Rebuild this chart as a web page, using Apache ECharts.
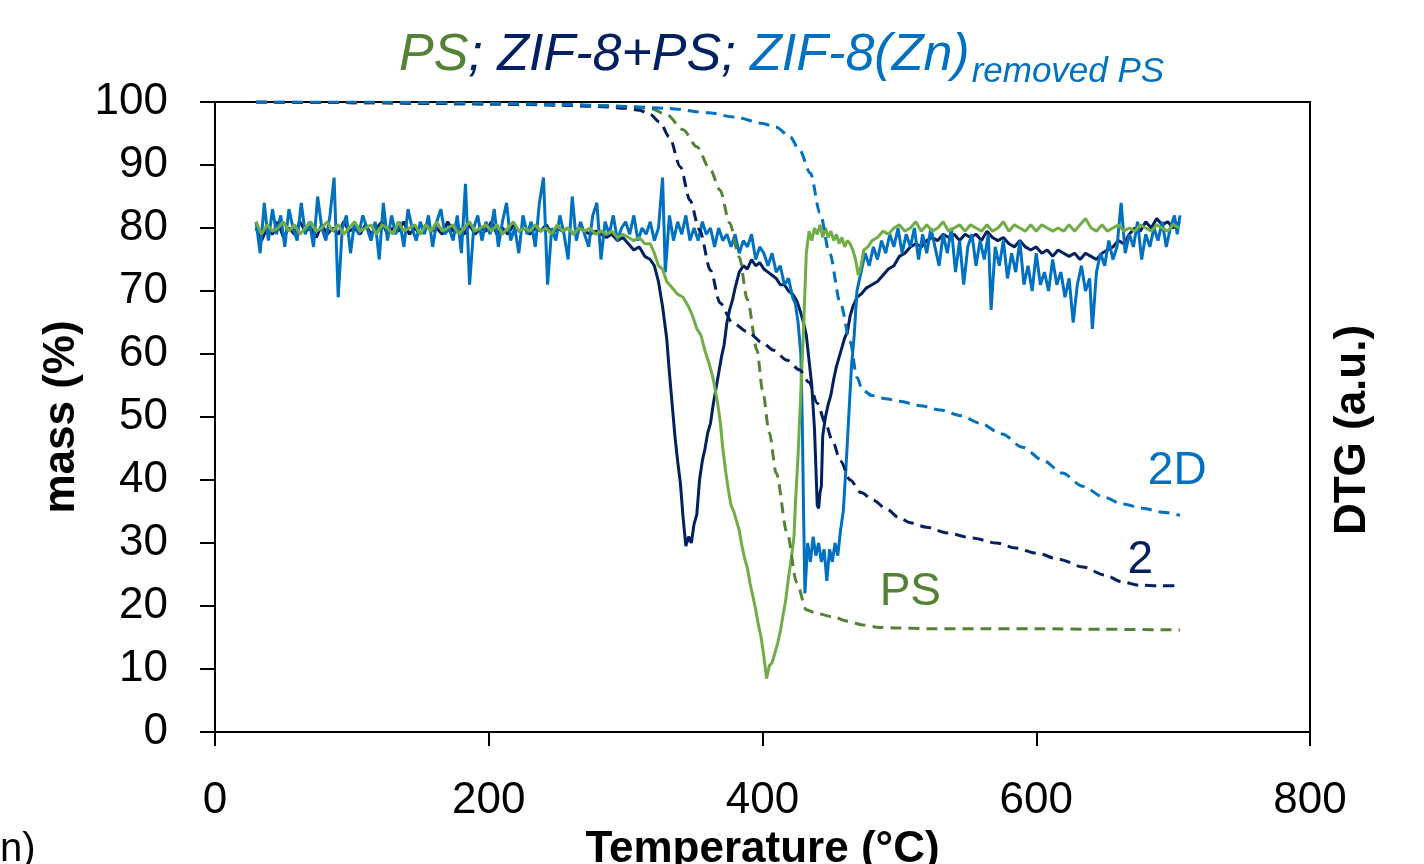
<!DOCTYPE html>
<html>
<head>
<meta charset="utf-8">
<script src="https://cdn.jsdelivr.net/npm/echarts@6/dist/echarts.min.js"></script>
<style>
  html, body { margin: 0; padding: 0; background: #fff; }
  #chart { width: 1424px; height: 864px; }
</style>
</head>
<body>
<div id="chart"></div>
<script>
// mass loss curves (dashed), [temperature, mass %]
const massPS = [[30,100],[100,99.9],[200,99.7],[250,99.6],[290,99.4],[305,99.2],[318,99],[330,98],[342,95.6],[352,92.9],[362,89.2],[369,86],[376,80.8],[383,75.4],[389,68.6],[396,60.6],[400,54.3],[405,47.5],[410,41.1],[418,31.6],[425,23.7],[432,19.4],[440,18.8],[451,18.3],[462,17.6],[473,17],[486,16.6],[498,16.5],[520,16.4],[560,16.4],[600,16.4],[650,16.3],[705,16.2]];
const mass2 = [[30,100],[100,99.9],[200,99.7],[250,99.5],[280,99.3],[300,99],[310,98.7],[318,98],[325,96.8],[332,94.4],[340,89.7],[347,84.4],[354,79.7],[362,73.3],[369,68.1],[378,65],[389,63.5],[400,61.8],[408,60.6],[418,59],[427,57.5],[434,55.5],[440,52.2],[446,49],[451,46.3],[457,43],[464,40],[472,38],[481,36.8],[490,35.5],[500,34],[508,33.2],[520,32.5],[535,31.6],[553,30.8],[571,30],[585,29.2],[600,28.4],[617,27.4],[634,26.2],[650,24.9],[663,23.8],[675,23.3],[690,23.2],[705,23.2]];
const mass2D = [[30,100],[100,100],[200,99.8],[250,99.6],[300,99.3],[330,99],[360,98.3],[380,97.6],[400,96.6],[410,96],[420,94.5],[427,92.4],[435,88.7],[442,82.4],[449,76],[457,68],[464,62],[469,56.3],[473,54.3],[480,53.4],[490,52.9],[500,52.5],[515,51.8],[530,51.1],[545,50.2],[559,49],[575,47.3],[590,45.2],[605,43.1],[619,41.1],[634,39],[649,37.3],[663,36.2],[678,35.5],[692,34.9],[705,34.4]];

// DTG curves (solid), [temperature, a.u.]
const dtgPS = [[30,81],[34,79],[38,80.5],[42,79.5],[46,80],[50,81],[54,79.5],[58,80.5],[62,79],[66,80],[70,81],[74,79.5],[78,80],[82,81],[86,79.5],[90,80.5],[94,79],[98,80],[102,81],[106,79.5],[110,80],[114,80.5],[118,79],[122,80.5],[126,80],[130,79],[134,81],[138,79.5],[142,80],[146,80.5],[150,79],[154,80.5],[158,79.5],[162,81],[166,79.5],[170,80],[174,80.5],[178,79],[182,80],[186,81],[190,79.5],[194,80],[198,80.5],[202,79.5],[206,80.5],[210,79],[214,80],[218,81],[222,79.5],[226,80],[230,79.5],[234,80.5],[238,79.5],[242,80],[246,79],[250,80.5],[254,79.5],[258,80],[262,79],[266,80],[270,79.5],[274,80],[278,79],[282,79.5],[286,79],[290,79.5],[294,78.5],[298,79],[302,78.5],[306,78],[310,78.5],[314,77.5],[318,77.5],[321,76],[324,74],[327,73.5],[330,71.5],[334,70.5],[338,69.5],[342,69],[346,67.5],[349,66],[352,64],[355,63],[358,60.5],[361,58.5],[364,56],[367,52.5],[369,49.5],[371,45],[373,41.5],[375,38.5],[377,36],[379,35],[381,33.5],[383,32],[385,29.5],[387,27.5],[389,26],[391,23.5],[393,21.5],[395,19.5],[397,17],[399,15],[401,12],[403,8.5],[405,10.5],[407,11],[409,12.5],[411,14],[413,16],[415,18.5],[417,21],[419,24.5],[421,27.5],[423,31],[424,36],[425,40],[426,44],[427,49],[428,54],[429,59],[430,64],[431,70],[432,76],[434,79.5],[436,78],[438,80],[440,79],[442,80.5],[444,78.5],[446,80],[448,78.5],[450,79.5],[452,78],[454,79],[456,77.5],[458,78.5],[460,77],[462,78],[464,77.5],[466,76.5],[468,75],[470,72.5],[472,74],[474,76.5],[477,77],[480,78],[484,78.5],[488,79.5],[492,79],[496,80],[500,80.5],[504,79.5],[508,80],[512,81],[516,79.5],[520,80.5],[524,79.5],[528,80],[532,81],[536,79.5],[540,80],[544,80.5],[548,79.5],[552,80.5],[556,80],[560,79.5],[564,80.5],[568,79.5],[572,80],[576,81],[580,79.5],[584,80.5],[588,80],[592,79.5],[596,80.5],[600,79.5],[604,80.5],[608,80],[612,79.5],[616,80],[620,79.5],[624,80.5],[628,79.5],[632,80.5],[636,81.5],[640,80],[644,79.5],[648,80.5],[652,79.5],[656,80],[660,80.5],[664,79.5],[668,80],[672,79.5],[676,80.5],[680,80],[684,79.5],[688,80.5],[692,80],[696,79.5],[700,80.5],[705,80]];
const dtg2 = [[30,80],[34,78],[38,80],[42,79],[46,81],[50,78.5],[54,80],[58,79],[62,81],[66,79.5],[70,80],[74,78.5],[78,80.5],[82,79],[86,80],[90,79],[94,81],[98,79.5],[102,80],[106,79],[110,80.5],[114,79],[118,80],[122,81],[126,79],[130,80],[134,79.5],[138,81],[142,79],[146,80],[150,79],[154,80.5],[158,79.5],[162,80],[166,79],[170,81],[174,79.5],[178,80],[182,79],[186,80.5],[190,79],[194,80],[198,79.5],[202,81],[206,79],[210,80],[214,79],[218,80.5],[222,79.5],[226,80],[230,79],[234,80],[238,79.5],[242,80.5],[246,79],[250,80],[254,79.5],[258,80],[262,79],[266,80],[270,79.5],[274,79],[278,79.5],[282,79],[286,78.5],[290,79],[294,78],[298,78.5],[302,77.5],[306,76.5],[310,77],[314,75.5],[318,75],[321,74],[324,71.5],[327,67.5],[330,62.5],[332,57],[334,52],[336,47],[338,43],[340,39.5],[342,34],[344,29.5],[346,31],[348,30],[350,33],[352,34.5],[354,40],[356,43],[358,45],[360,47.5],[362,49],[364,52],[366,54.5],[368,57],[370,59.5],[372,61.5],[374,65],[376,67],[378,68.5],[380,70.5],[383,73],[386,74],[389,73.5],[392,75],[395,74],[398,74.5],[401,73.5],[404,73],[407,72.5],[410,72],[413,71],[416,71],[419,70],[422,69.5],[425,68.5],[428,66.5],[430,65],[432,63],[434,59],[436,55],[438,48],[439,42],[440,36],[441,35.5],[442,38],[443,39],[444,47],[446,50],[448,52],[450,53.5],[452,56],[454,58],[456,59.5],[458,61],[460,62.5],[462,63.5],[464,66],[466,67.5],[469,69],[472,69.5],[476,70.5],[480,71],[484,71.5],[488,72.5],[492,73.5],[496,74],[500,75.5],[504,76],[508,77],[512,77.5],[516,77],[520,78],[524,78.5],[528,78],[532,79],[536,78.5],[540,79],[544,78],[548,79],[552,78.5],[556,79],[560,78],[564,79.5],[568,78.5],[572,78],[576,78.5],[580,77.5],[584,77],[588,78],[592,77],[596,76.5],[600,77],[604,76],[608,76.5],[612,75.5],[616,76.5],[620,76],[624,75.5],[628,76],[632,75],[636,76],[640,75.5],[644,75],[648,76],[652,76.5],[656,77],[660,78],[664,77.5],[668,79],[672,80],[676,79.5],[680,81],[684,80],[688,81.5],[692,80.5],[696,81],[700,80],[705,81]];
const dtg2D = [[30,81],[33,76],[36,84],[39,78],[42,83],[45,79],[48,82],[51,77],[54,83],[57,80],[60,78],[63,84],[66,79],[69,81],[72,77],[75,85],[78,80],[81,78],[84,82],[87,88],[90,69],[93,80],[96,82],[99,76],[102,81],[105,79],[108,82],[111,80],[114,78],[117,81],[120,75],[123,84],[126,78],[129,82],[132,79],[135,81],[138,77],[141,83],[144,80],[147,78],[150,81],[153,79],[156,82],[159,77],[162,81],[165,83],[168,79],[171,80],[174,78],[177,82],[180,76],[183,87],[186,71],[189,80],[192,82],[195,78],[198,81],[201,79],[204,83],[207,77],[210,81],[213,84],[216,78],[219,80],[222,76],[225,82],[228,79],[231,81],[234,77],[237,84],[240,88],[243,71],[246,80],[249,78],[252,82],[255,79],[258,75],[261,85],[264,78],[267,81],[270,79],[273,77],[276,82],[279,84],[282,75],[285,81],[288,79],[291,82],[294,78],[297,80],[300,81],[303,79],[306,82],[309,78],[312,80],[315,79],[318,81],[321,78],[324,80],[327,88],[329,73],[332,82],[335,78],[338,81],[341,79],[344,82],[347,78],[350,80],[353,78],[356,81],[359,79],[362,80],[365,77],[368,80],[371,78],[374,79],[377,77],[380,79],[383,76],[386,78],[389,77],[392,79],[395,75],[398,77],[401,76],[404,74],[407,76],[410,73],[413,74],[416,71],[419,72],[422,69],[424,68],[426,65],[428,60],[429,50],[430,35],[431,22],[433,30],[435,27],[437,31],[439,28],[441,30],[443,27],[445,29],[447,24],[449,29],[451,27],[453,30],[455,28],[457,32],[459,35],[461,42],[463,50],[465,58],[467,63],[469,70],[472,73],[475,76],[478,74],[481,77],[484,75],[487,78],[490,76],[493,79],[496,77],[499,80],[502,76],[505,79],[508,77],[511,80],[514,75],[517,79],[520,76],[523,80],[526,77],[529,74],[532,79],[535,76],[538,80],[541,73],[544,78],[547,71],[550,77],[553,79],[556,74],[559,78],[562,75],[565,79],[567,67],[570,77],[573,74],[576,78],[579,72],[582,76],[585,73],[588,78],[591,71],[594,74],[597,70],[600,76],[603,71],[606,73],[609,70],[612,75],[615,71],[618,73],[621,69],[624,72],[627,65],[630,71],[633,74],[636,70],[639,72],[641,64],[644,73],[647,76],[650,74],[653,78],[656,75],[659,77],[662,84],[665,76],[668,79],[671,77],[674,81],[677,75],[680,79],[683,77],[686,80],[689,78],[692,81],[695,77],[698,80],[701,82],[703,79],[705,82]];

// curve labels placed in data space
const curveLabels = [
  { name: '2D', coord: [703, 41.3], color: '#0070C0' },
  { name: '2', coord: [676, 27.3], color: '#002060' },
  { name: 'PS', coord: [508, 22.2], color: '#548235' }
];

const green = '#70AD47';
const greenDark = '#548235';
const navy = '#002060';
const blue = '#0070C0';
const font = 'Liberation Sans';

const chart = echarts.init(document.getElementById('chart'));

const dashed = (data, color) => ({
  type: 'line', data: data, yAxisIndex: 0, symbol: 'none',
  smooth: 0.3, smoothMonotone: 'x',
  lineStyle: { color: color, width: 3, type: [11, 7] }, z: 5
});
const solid = (data, color) => ({
  type: 'line', data: data, yAxisIndex: 1, symbol: 'none',
  lineStyle: { color: color, width: 3 }
});

const titleRich = (color, size, pad) => ({
  color: color, fontSize: size, fontStyle: 'italic', fontWeight: 'normal', fontFamily: font, padding: pad
});

chart.setOption({
  animation: false,
  title: {
    left: 394, top: 16,
    text: '{g|PS}{n|; ZIF-8+PS; }{b|ZIF-8(Zn)}{s|removed PS}',
    textStyle: {
      fontWeight: 'normal',
      rich: {
        g: titleRich(greenDark, 52, 0),
        n: titleRich(navy, 52, 0),
        b: titleRich(blue, 52, 0),
        s: titleRich(blue, 35, [34, 0, 0, 2])
      }
    }
  },
  grid: {
    left: 215, right: 114, top: 102, bottom: 132, outerBoundsMode: 'none',
    show: true, borderColor: '#000', borderWidth: 2
  },
  xAxis: {
    type: 'value', min: 0, max: 800, interval: 200,
    name: 'Temperature (°C)', nameLocation: 'middle', nameGap: 90,
    nameTextStyle: { fontSize: 44, fontWeight: 'bold', color: '#000', fontFamily: font },
    axisLine: { lineStyle: { color: '#000', width: 2 } },
    axisTick: { show: true, length: 14, lineStyle: { color: '#000', width: 2 } },
    axisLabel: { fontSize: 44, color: '#000', margin: 47, fontFamily: font },
    splitLine: { show: false }
  },
  yAxis: [
    {
      type: 'value', min: 0, max: 100, interval: 10,
      name: 'mass (%)', nameLocation: 'middle', nameGap: 120, nameRotate: 90,
      nameTextStyle: { fontSize: 44, fontWeight: 'bold', color: '#000', fontFamily: font },
      axisLine: { show: true, lineStyle: { color: '#000', width: 2 } },
      axisTick: { show: true, length: 15, lineStyle: { color: '#000', width: 2 } },
      axisLabel: { fontSize: 44, color: '#000', margin: 47, fontFamily: font },
      splitLine: { show: false }
    },
    {
      type: 'value', min: 0, max: 100, position: 'right',
      name: 'DTG (a.u.)', nameLocation: 'middle', nameGap: 21, nameRotate: 90,
      nameTextStyle: { fontSize: 44, fontWeight: 'bold', color: '#000', fontFamily: font, padding: [0, 26, 0, 0] },
      axisLine: { show: true, lineStyle: { color: '#000', width: 2 } },
      axisTick: { show: false }, axisLabel: { show: false }, splitLine: { show: false }
    }
  ],
  graphic: [
    { type: 'text', left: 0, top: 830, style: { text: 'n)', fontSize: 40, fill: '#000', fontFamily: font } }
  ],
  series: [
    solid(dtg2, navy),
    solid(dtg2D, blue),
    solid(dtgPS, green),
    Object.assign(dashed(massPS, greenDark), {
      markPoint: {
        symbol: 'circle', symbolSize: 1, itemStyle: { color: 'rgba(0,0,0,0)' },
        data: curveLabels.map(l => ({
          name: l.name, coord: l.coord,
          label: { show: true, position: 'inside', formatter: l.name, color: l.color, fontSize: 46, fontFamily: font }
        }))
      }
    }),
    dashed(mass2, navy),
    dashed(mass2D, blue)
  ]
});
</script>
</body>
</html>
